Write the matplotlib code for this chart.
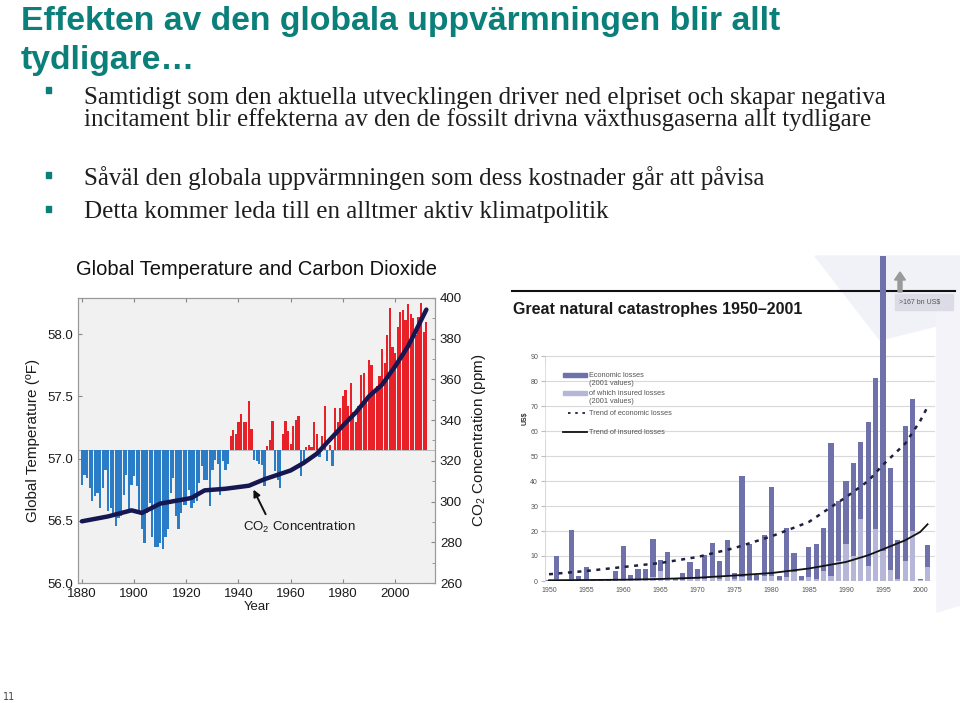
import matplotlib
matplotlib.use("Agg")
import matplotlib.pyplot as plt
import numpy as np
from matplotlib.patches import Polygon, Rectangle, FancyArrow

plt.rcParams["font.family"] = ["Liberation Sans", "DejaVu Sans"]
plt.rcParams["mathtext.fontset"] = "custom"
plt.rcParams["mathtext.rm"] = "Liberation Sans"

# --- Data: global temperature (deg F) 1880-2012 ---
temp_years = np.arange(1880, 2013)
temp_f = [
    56.79, 56.87, 56.84, 56.76, 56.66, 56.70, 56.72, 56.60, 56.76, 56.91,
    56.58, 56.60, 56.54, 56.46, 56.52, 56.54, 56.71, 56.87, 56.56, 56.79,
    56.86, 56.78, 56.56, 56.43, 56.32, 56.56, 56.64, 56.37, 56.29, 56.29,
    56.32, 56.27, 56.37, 56.43, 56.72, 56.84, 56.54, 56.43, 56.56, 56.63,
    56.63, 56.75, 56.60, 56.64, 56.66, 56.80, 56.94, 56.83, 56.83, 56.62,
    56.91, 56.99, 56.96, 56.71, 56.98, 56.91, 56.96, 57.18, 57.23, 57.20,
    57.29, 57.36, 57.29, 57.29, 57.46, 57.24, 56.99, 56.98, 56.96, 56.95,
    56.78, 57.10, 57.15, 57.30, 56.90, 56.83, 56.76, 57.20, 57.30, 57.22,
    57.12, 57.26, 57.31, 57.34, 56.86, 56.95, 57.09, 57.11, 57.09, 57.29,
    57.20, 57.01, 57.18, 57.42, 56.98, 57.11, 56.94, 57.41, 57.29, 57.41,
    57.50, 57.55, 57.42, 57.61, 57.37, 57.29, 57.42, 57.67, 57.69, 57.47,
    57.79, 57.75, 57.53, 57.58, 57.66, 57.88, 57.77, 57.99, 58.21, 57.90,
    57.85, 58.06, 58.18, 58.19, 58.11, 58.24, 58.16, 58.13, 57.99, 58.14,
    58.25, 58.02, 58.10,
]
temp_base = 57.07

co2_years = [1880, 1890, 1899, 1903, 1910, 1920, 1922, 1927, 1935, 1944,
             1950, 1960, 1965, 1970, 1975, 1980, 1985, 1990, 1995, 2000,
             2005, 2012]
co2_ppm = [290.3, 292.7, 295.7, 294.4, 299.0, 301.3, 301.8, 305.5, 306.3,
           307.8, 311.0, 315.3, 319.0, 323.5, 330.4, 337.3, 343.8, 351.7,
           357.4, 366.4, 376.3, 394.3]

# --- Data: great natural catastrophes 1950-2001 (bn US$) ---
cat_years = np.arange(1950, 2002)
econ_loss = [
    0.3, 10.0, 0.5, 20.6, 1.9, 5.5, 0.3, 0.3, 0.3, 4.0,
    14.0, 2.3, 5.0, 4.7, 17.0, 8.3, 11.5, 1.0, 3.2, 7.6,
    5.0, 10.3, 15.2, 8.0, 16.5, 3.2, 42.2, 14.7, 2.3, 18.4,
    37.6, 2.0, 21.4, 11.3, 2.0, 13.6, 15.0, 21.4, 55.3, 32.0,
    40.0, 47.3, 55.5, 63.7, 81.4, 167.0, 45.3, 16.5, 62.0, 72.9,
    0.8, 14.4,
]
insured_loss = [
    0.1, 0.8, 0.1, 1.0, 0.5, 0.8, 0.1, 0.1, 0.1, 0.5,
    0.8, 0.5, 1.0, 1.0, 1.5, 4.0, 1.0, 0.5, 0.5, 1.0,
    1.0, 1.0, 1.5, 1.0, 2.0, 0.8, 1.5, 0.5, 0.5, 2.0,
    2.0, 0.5, 1.5, 3.5, 0.5, 1.5, 1.0, 4.0, 2.0, 8.0,
    15.0, 10.0, 25.0, 6.0, 21.0, 12.0, 4.5, 1.0, 8.0, 20.0,
    0.3, 5.8,
]
trend_econ_years = [1950, 1955, 1960, 1965, 1970, 1975, 1980, 1985, 1988,
                    1990, 1993, 1995, 1998, 2000, 2001]
trend_econ = [2.7, 4.0, 5.6, 7.2, 9.6, 13.2, 17.9, 23.6, 29.6, 33.5, 40.0,
              46.5, 55.0, 64.0, 69.7]
trend_ins_years = [1950, 1955, 1960, 1965, 1970, 1975, 1980, 1985, 1990,
                   1993, 1995, 1998, 2000, 2001]
trend_ins = [0.3, 0.4, 0.5, 0.8, 1.3, 2.2, 3.2, 5.0, 7.6, 10.3, 12.7, 16.3,
             19.6, 22.7]

W, H = 960, 703
fig = plt.figure(figsize=(9.6, 7.03), dpi=100)


def fx(px):
    return px / W


def fy(py):
    return 1 - py / H


# --- Slide text ---
teal = "#0b7f79"
fig.text(fx(21), fy(30), "Effekten av den globala uppvärmningen blir allt",
         fontsize=24.3, fontweight="bold", color=teal, va="baseline")
fig.text(fx(21), fy(69), "tydligare…", fontsize=24.3, fontweight="bold",
         color=teal, va="baseline")

serif = ["Liberation Serif", "DejaVu Serif"]
bullets = [
    (90, 99, "Samtidigt som den aktuella utvecklingen driver ned elpriset och skapar negativa\n"
             "incitament blir effekterna av den de fossilt drivna växthusgaserna allt tydligare"),
    (175, 178, "Såväl den globala uppvärmningen som dess kostnader går att påvisa"),
    (209, 213, "Detta kommer leda till en alltmer aktiv klimatpolitik"),
]
for yb, yt, txt in bullets:
    fig.patches.append(Rectangle((fx(46), fy(yb + 3)), 5 / W, 6 / H,
                                 transform=fig.transFigure, color=teal))
    fig.text(fx(84), fy(yt - 12), txt, fontsize=18, family=serif,
             color="#1e1e1e", va="top", linespacing=0.93)

fig.text(fx(3), fy(697), "11", fontsize=7, color="#444444", va="center",
         family=["DejaVu Sans"])

# --- Left chart: temperature + CO2 ---
ax = fig.add_axes([fx(78), fy(583), (435 - 78) / W, (583 - 298) / H])
ax.set_facecolor("#f1f1f1")
temp = np.array(temp_f)
cols = np.where(temp >= temp_base, "#e82128", "#2a7cc7")
ax.bar(temp_years, temp - temp_base, bottom=temp_base, width=0.85,
       color=cols, linewidth=0, zorder=2)
ax.axhline(temp_base, color="#b0b0b0", lw=0.6, zorder=1)
ax.set_xlim(1878.5, 2015.3)
ax.set_ylim(56.0, 58.29)
ax.set_yticks([56.0, 56.5, 57.0, 57.5, 58.0])
ax.set_xticks(range(1880, 2001, 20))
ax.tick_params(direction="in", labelsize=9.5, length=3, color="#888888",
               top=True, labelcolor="#1a1a1a")
ax.set_ylabel("Global Temperature (ºF)", fontsize=11, labelpad=5,
              color="#1a1a1a")
ax.set_xlabel("Year", fontsize=9.5, labelpad=1, color="#1a1a1a")
for s in ax.spines.values():
    s.set_color("#999999")

ax2 = ax.twinx()
ax2.set_ylim(260, 400)
ax2.set_yticks(range(260, 401, 20))
ax2.set_yticks(range(260, 401, 10), minor=True)
ax2.tick_params(direction="in", labelsize=9.5, length=3, color="#888888",
                labelcolor="#1a1a1a")
ax2.tick_params(which="minor", direction="in", length=2, color="#888888")
ax2.plot(co2_years, co2_ppm, color="#161650", lw=3.2, solid_capstyle="round",
         solid_joinstyle="round", zorder=3)
ax2.set_ylabel("CO$_2$ Concentration (ppm)", fontsize=11, labelpad=6,
               color="#1a1a1a")
for s in ax2.spines.values():
    s.set_color("#999999")
ax2.annotate("CO$_2$ Concentration", xy=(1945.5, 306.5), xytext=(1963.5, 287.5),
             fontsize=9.5, ha="center", va="center", color="#1a1a1a",
             arrowprops=dict(arrowstyle="-|>", color="#111111", lw=1.4,
                             shrinkA=2, shrinkB=1, mutation_scale=10,
                             relpos=(0.22, 1.0)))

fig.text(fx(257), fy(270), "Global Temperature and Carbon Dioxide",
         fontsize=14.5, ha="center", va="center", color="#111111")

# --- Right chart: natural catastrophes ---
# faint lavender background shapes
fig.patches.append(Polygon([(fx(815), fy(256)), (fx(960), fy(256)),
                            (fx(960), fy(320)), (fx(880), fy(340))],
                           closed=True, transform=fig.transFigure,
                           color="#f1f1f8", zorder=-1))
fig.patches.append(Polygon([(fx(937), fy(300)), (fx(960), fy(290)),
                            (fx(960), fy(605)), (fx(937), fy(612))],
                           closed=True, transform=fig.transFigure,
                           color="#f3f3f9", zorder=-1))

bx = fig.add_axes([fx(545), fy(581), (935 - 545) / W, (581 - 256) / H])
bx.set_facecolor("none")
x0, x1 = 1949.46, 2002.0
bx.set_xlim(x0, x1)
bx.set_ylim(0, 130)
for s in bx.spines.values():
    s.set_visible(False)
bx.set_yticks(range(0, 91, 10))
bx.set_xticks(range(1950, 2001, 5))
bx.tick_params(axis="y", labelsize=5, length=3, color="#bbbbbb",
               labelcolor="#555555", pad=2)
bx.tick_params(axis="x", labelsize=5, length=0, labelcolor="#555555", pad=4)
bx.grid(axis="y", color="#d9d9d9", lw=0.8, zorder=0)
bx.vlines([x0, x1], 0, 90, color="#d9d9d9", lw=0.8, zorder=0)

bx.bar(cat_years, econ_loss, width=0.7, color="#6f71aa", zorder=2)
bx.bar(cat_years, insured_loss, width=0.7, color="#b6b7d8", zorder=2.1)
bx.plot(trend_econ_years, trend_econ, color="#1f2040", lw=1.8,
        ls=(0, (1.6, 2.2)), zorder=3)
bx.plot(trend_ins_years, trend_ins, color="#111111", lw=1.3, zorder=3)
bx.set_ylabel("US$", fontsize=5, fontweight="bold", labelpad=1,
              color="#333333")

# header line across chart top
bx.plot([-0.085, 1.051], [0.892, 0.892], transform=bx.transAxes,
        color="#111111", lw=1.5, clip_on=False, zorder=1)
fig.text(fx(513), fy(310), "Great natural catastrophes 1950–2001",
         fontsize=11.5, fontweight="bold", color="#1a1a1a", va="center")
fig.patches.append(Rectangle((fx(895), fy(310)), 58 / W, 16 / H,
                             transform=fig.transFigure, color="#dcdce6"))
fig.text(fx(899), fy(302), ">167 bn US$", fontsize=5, color="#555555",
         va="center")
fig.patches.append(FancyArrow(fx(900), fy(292), 0, 20 / H, width=4 / W,
                              head_width=11 / W, head_length=8 / H,
                              length_includes_head=True,
                              transform=fig.transFigure, color="#9a9a9a"))


# hand-placed legend (pixel positions of the original)
def bxy(px, py):
    return x0 + (px - 545) / 7.42, (581 - py) / 2.5


lx0, ly0 = bxy(546, 440)
lx1, ly1 = bxy(690, 364)
bx.add_patch(Rectangle((lx0, ly0), lx1 - lx0, ly1 - ly0, color="white",
                       zorder=1))
leg_items = [
    (375, "patch", "#6f71aa", "Economic losses\n(2001 values)"),
    (393, "patch", "#b6b7d8", "of which insured losses\n(2001 values)"),
    (413, "dots", "#1f2040", "Trend of economic losses"),
    (432, "line", "#111111", "Trend of insured losses"),
]
for py, kind, c, lab in leg_items:
    ax_, ay_ = bxy(563, py)
    bx_, _ = bxy(587, py)
    if kind == "patch":
        bx.add_patch(Rectangle((ax_, ay_ - 0.8), bx_ - ax_, 1.6, color=c,
                               zorder=4))
    elif kind == "dots":
        sx, _ = bxy(568, py)
        bx.plot([sx, bx_ - 0.3], [ay_, ay_], color=c, lw=1.3,
                ls=(0, (1.4, 2.6)), zorder=4)
    else:
        bx.plot([ax_, bx_], [ay_, ay_], color=c, lw=1.3, zorder=4)
    tx, _ = bxy(589, py)
    bx.text(tx, ay_ + 1.3, lab, fontsize=5.3, color="#555555", va="top",
            ha="left", linespacing=1.25, zorder=4)

fig.savefig("out.png", dpi=100, facecolor="white")
